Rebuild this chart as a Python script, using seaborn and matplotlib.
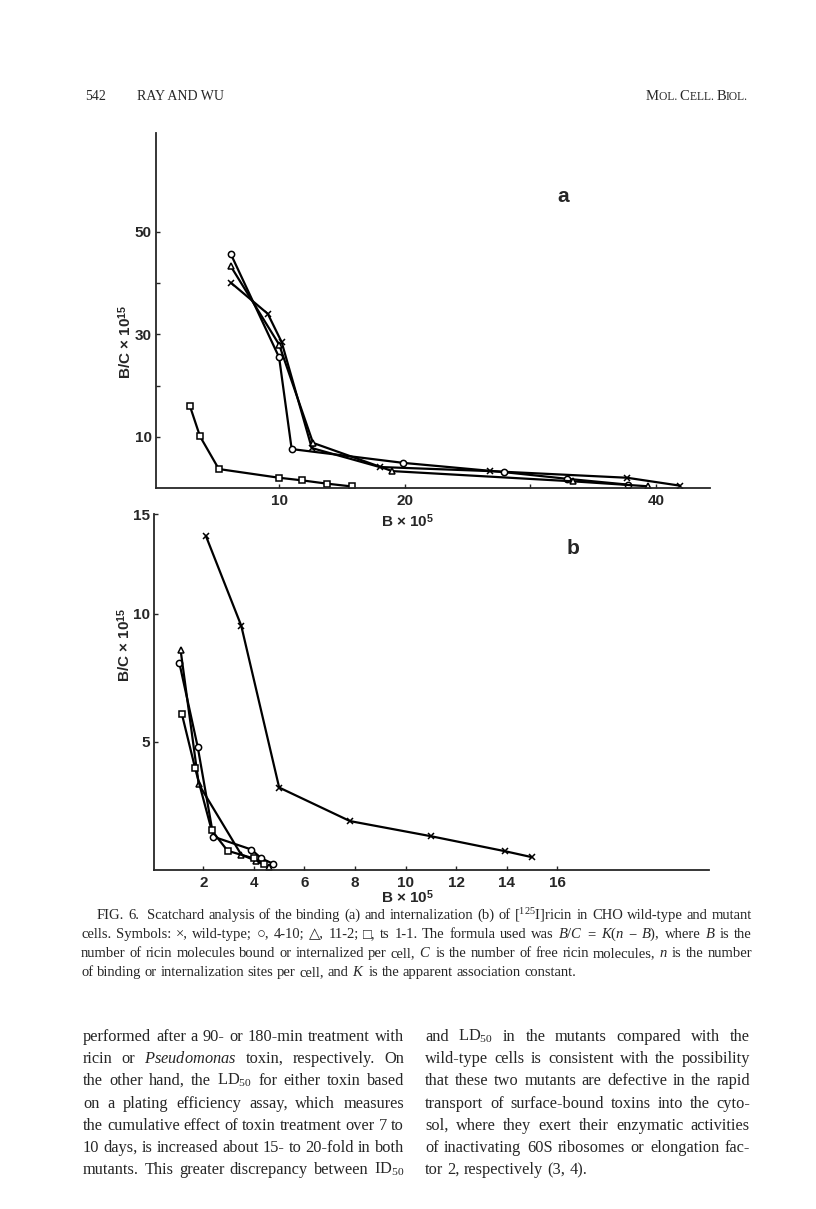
import matplotlib
matplotlib.use("Agg")
import matplotlib.pyplot as plt
import matplotlib.font_manager as fm
import pandas as pd
import seaborn as sns

# ---- panel a: binding (B x 10^5 vs B/C x 10^15) ----
a_wt_B = [6.15, 9.1, 10.2, 12.6, 18.0, 26.8, 37.7, 41.9]
a_wt_BC = [40.1, 34.0, 28.5, 7.8, 4.1, 3.3, 2.0, 0.46]
a_410_B = [6.15, 10.0, 11.0, 19.9, 27.9, 32.9, 37.8]
a_410_BC = [45.7, 25.5, 7.6, 4.9, 3.1, 1.8, 0.65]
a_112_B = [6.15, 10.0, 12.7, 19.0, 33.4, 39.4]
a_112_BC = [43.3, 28.0, 8.8, 3.3, 1.3, 0.33]
a_ts_B = [2.9, 3.7, 5.2, 10.0, 11.8, 13.8, 15.8]
a_ts_BC = [16.0, 10.1, 3.7, 2.0, 1.5, 0.85, 0.3]

# ---- panel b: internalization ----
b_wt_B = [2.1, 3.5, 5.0, 7.8, 11.0, 13.95, 15.0]
b_wt_BC = [13.05, 9.54, 3.22, 1.91, 1.32, 0.73, 0.50]
b_410_B = [1.05, 1.78, 2.4, 3.9, 4.3, 4.75]
b_410_BC = [8.1, 4.8, 1.3, 0.8, 0.45, 0.25]
b_112_B = [1.1, 1.82, 3.5, 4.1, 4.6]
b_112_BC = [8.6, 3.35, 0.6, 0.35, 0.1]
b_ts_B = [1.15, 1.67, 2.33, 2.96, 4.0, 4.4]
b_ts_BC = [6.1, 4.0, 1.55, 0.75, 0.45, 0.25]

strains = ["wild-type", "4-10", "11-2", "ts 1-1"]
marker_map = {"wild-type": "x", "4-10": "o", "11-2": "^", "ts 1-1": "s"}

a_xticks = [10, 20, 30, 40]
a_xlabels = ["10", "20", "", "40"]
a_yticks = [10, 20, 30, 40, 50]
a_ylabels = ["10", "", "30", "", "50"]
b_xticks = [2, 4, 6, 8, 10, 12, 14, 16]
b_yticks = [5, 10, 13.9]
b_ylabels = ["5", "10", "15"]


def frame(xs_list, ys_list):
    parts = []
    for name, xs, ys in zip(strains, xs_list, ys_list):
        parts.append(pd.DataFrame({"B": xs, "BC": ys, "strain": name}))
    return pd.concat(parts, ignore_index=True)


df_a = frame([a_wt_B, a_410_B, a_112_B, a_ts_B], [a_wt_BC, a_410_BC, a_112_BC, a_ts_BC])
df_b = frame([b_wt_B, b_410_B, b_112_B, b_ts_B], [b_wt_BC, b_410_BC, b_112_BC, b_ts_BC])

sns.set_style("ticks")
names = {f.name for f in fm.fontManager.ttflist}
SANS = "Liberation Sans Narrow" if "Liberation Sans Narrow" in names else "Liberation Sans"
SERIF = ["Liberation Serif", "DejaVu Serif", "DejaVu Sans"]
plt.rcParams["font.family"] = [SANS, "DejaVu Sans"]
plt.rcParams["mathtext.fontset"] = "custom"
plt.rcParams["mathtext.rm"] = "Liberation Serif"
plt.rcParams["mathtext.it"] = "Liberation Serif:italic"
plt.rcParams["mathtext.bf"] = SANS + ":bold"

W, H = 816, 1209
fig = plt.figure(figsize=(W / 100, H / 100), dpi=100)


def axes_px(left, top, right, bottom):
    return fig.add_axes([left / W, 1 - bottom / H, (right - left) / W, (bottom - top) / H])


ax_a = axes_px(156, 133, 710, 488)
ax_b = axes_px(154, 514, 709, 870)

TICK_FS = 11
line_kw = dict(color="black", lw=1.6, ms=4.5, mfc="white", mec="black", mew=1.1)
for ax, df in [(ax_a, df_a), (ax_b, df_b)]:
    for name in strains:
        sub = df[df["strain"] == name]
        sns.lineplot(data=sub, x="B", y="BC", marker=marker_map[name], sort=False,
                     estimator=None, legend=False, ax=ax, **line_kw)
    sns.despine(ax=ax)
    ax.set_xlabel("")
    ax.set_ylabel("")
    ax.patch.set_alpha(0)
    for s in ["left", "bottom"]:
        ax.spines[s].set_linewidth(1.3)
    ax.tick_params(axis="x", direction="in", length=3, width=1, pad=4)
    ax.tick_params(axis="y", direction="in", length=3, width=1, pad=3)

ax_a.set_xlim(0.2, 44.3)
ax_a.set_ylim(0, 69.3)
ax_a.set_xticks(a_xticks, a_xlabels, fontsize=TICK_FS, fontweight="bold")
ax_a.set_yticks(a_yticks, a_ylabels, fontsize=TICK_FS, fontweight="bold")

ax_b.set_xlim(0.05, 22.0)
ax_b.set_ylim(0, 13.9)
ax_b.set_xticks(b_xticks, [str(v) for v in b_xticks], fontsize=TICK_FS, fontweight="bold")
ax_b.set_yticks(b_yticks, b_ylabels, fontsize=TICK_FS, fontweight="bold")


def fx(x):
    return x / W


def fy(y):
    return 1 - y / H


lab_kw = dict(fontsize=11, fontweight="bold", ha="center", va="center")
fig.text(fx(408), fy(521), r"B × 10$^{\mathbf{5}}$", **lab_kw)
fig.text(fx(408), fy(897), r"B × 10$^{\mathbf{5}}$", **lab_kw)
fig.text(fx(125), fy(342), r"B/C × 10$^{\mathbf{15}}$", rotation=90, **lab_kw)
fig.text(fx(124), fy(645), r"B/C × 10$^{\mathbf{15}}$", rotation=90, **lab_kw)
fig.text(fx(563), fy(197), "a", fontsize=15, fontweight="bold", ha="center", va="center")
fig.text(fx(573), fy(548), "b", fontsize=15, fontweight="bold", ha="center", va="center")

renderer = fig.canvas.get_renderer()
serif_kw = dict(family=SERIF)


def word_widths(words, fs):
    texts = [fig.text(0, 0, w, fontsize=fs, **serif_kw) for w in words]
    ws = [t.get_window_extent(renderer).width for t in texts]
    for t in texts:
        t.remove()
    return ws


def space_width(fs):
    a, b = word_widths(["a a", "aa"], fs)
    return a - b


def fit_size(lines, widths_px, base=10.0):
    # font size at which the widest line fits its measure with normal spacing
    ratios = []
    for line, target in zip(lines, widths_px):
        words = line.split(" ")
        natural = sum(word_widths(words, base)) + space_width(base) * (len(words) - 1)
        ratios.append(target / natural)
    return base * min(ratios)


def place_words(words, x0, x1, y, fs, justify=True):
    texts = [fig.text(0, fy(y), w, va="baseline", ha="left", fontsize=fs, **serif_kw)
             for w in words]
    widths = [t.get_window_extent(renderer).width for t in texts]
    if justify and len(words) > 1:
        gap = (x1 - x0 - sum(widths)) / (len(words) - 1)
    else:
        gap = space_width(fs)
    x = x0
    for t, w in zip(texts, widths):
        t.set_x(fx(x))
        x += w + gap


def pieces(parts, x_right, y):
    texts = [fig.text(0, fy(y), s, va="baseline", ha="left", fontsize=fs, **serif_kw)
             for s, fs in parts]
    widths = [t.get_window_extent(renderer).width for t in texts]
    x = x_right - sum(widths)
    for t, w in zip(texts, widths):
        t.set_x(fx(x))
        x += w


# running head
fig.text(fx(85), fy(100), "542", fontsize=10, va="baseline", **serif_kw)
fig.text(fx(137), fy(100), "RAY AND WU", fontsize=10, va="baseline", **serif_kw)
pieces([("M", 10.5), ("OL. ", 8.3), ("C", 10.5), ("ELL. ", 8.3), ("B", 10.5), ("IOL.", 8.3)],
       748, 100)

# figure legend
caption = [
    "FIG. 6.  Scatchard analysis of the binding (a) and internalization (b) of [$^{125}$I]ricin in CHO wild-type and mutant",
    "cells. Symbols: ×, wild-type; ○, 4-10; △, 11-2; □, ts 1-1. The formula used was $B/C$ = $K$($n$ − $B$), where $B$ is the",
    "number of ricin molecules bound or internalized per cell, $C$ is the number of free ricin molecules, $n$ is the number",
    "of binding or internalization sites per cell, and $K$ is the apparent association constant.",
]
cap_x0 = [97, 81, 81, 81]
cap_y = [919, 938, 957, 976]
cap_fs = fit_size(caption[:3], [752 - x for x in cap_x0[:3]])
for i, (line, y) in enumerate(zip(caption, cap_y)):
    place_words(line.split(" "), cap_x0[i], 752, y, cap_fs, justify=(i < 3))

# body text
left_col = [
    "performed after a 90- or 180-min treatment with",
    "ricin or $Pseudomonas$ toxin, respectively. On",
    "the other hand, the LD$_{50}$ for either toxin based",
    "on a plating efficiency assay, which measures",
    "the cumulative effect of toxin treatment over 7 to",
    "10 days, is increased about 15- to 20-fold in both",
    "mutants. This greater discrepancy between ID$_{50}$",
]
right_col = [
    "and LD$_{50}$ in the mutants compared with the",
    "wild-type cells is consistent with the possibility",
    "that these two mutants are defective in the rapid",
    "transport of surface-bound toxins into the cyto-",
    "sol, where they exert their enzymatic activities",
    "of inactivating 60S ribosomes or elongation fac-",
    "tor 2, respectively (3, 4).",
]
body_y = [1041, 1063, 1085, 1108, 1130, 1152, 1174]
body_fs = min(fit_size(left_col, [321] * 7), fit_size(right_col[:6], [325] * 6))
for line, y in zip(left_col, body_y):
    place_words(line.split(" "), 83, 404, y, body_fs)
for i, (line, y) in enumerate(zip(right_col, body_y)):
    place_words(line.split(" "), 425, 750, y, body_fs, justify=(i < 6))

fig.savefig("out.png", dpi=100)
